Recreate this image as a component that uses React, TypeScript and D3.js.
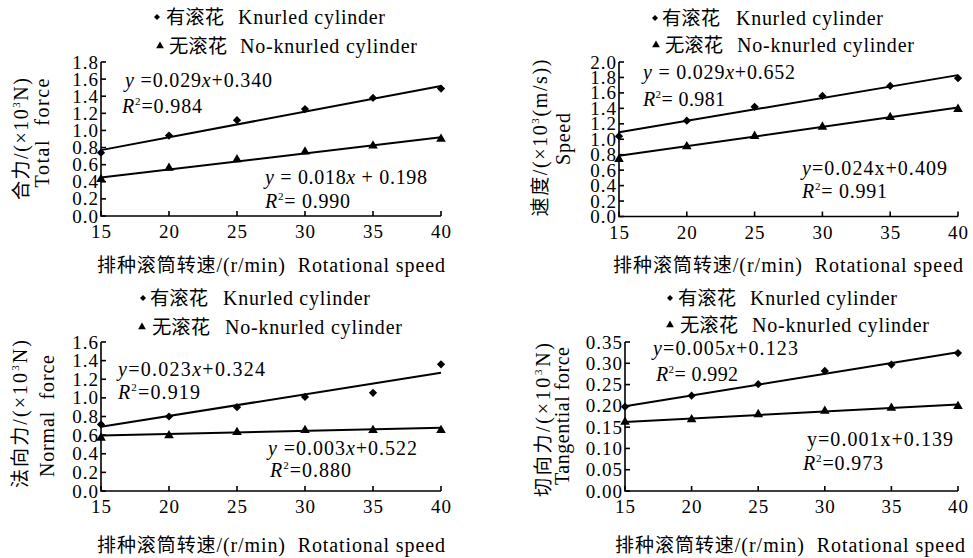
import React from "react";
import * as d3 from "d3";

// rotational speed of the seeding roller, r/min
const speeds = [15, 20, 25, 30, 35, 40];
const trendX = [15, 40];

// total force (x10^3 N)
const totalKnurled = [0.74, 0.94, 1.12, 1.25, 1.38, 1.49];
const totalPlain = [0.43, 0.56, 0.66, 0.75, 0.82, 0.9];
const totalTrendKnurled = [0.77, 1.52];
const totalTrendPlain = [0.45, 0.92];
const totalTicks = [0, 0.2, 0.4, 0.6, 0.8, 1.0, 1.2, 1.4, 1.6, 1.8];

// speed (x10^3 (m/s))
const speedKnurled = [1.04, 1.24, 1.42, 1.56, 1.69, 1.79];
const speedPlain = [0.74, 0.905, 1.04, 1.16, 1.285, 1.39];
const speedTrendKnurled = [1.09, 1.83];
const speedTrendPlain = [0.785, 1.41];
const speedTicks = [0, 0.2, 0.4, 0.6, 0.8, 1.0, 1.2, 1.4, 1.6, 1.8, 2.0];

// normal force (x10^3 N)
const normalKnurled = [0.715, 0.8, 0.9, 1.01, 1.055, 1.36];
const normalPlain = [0.57, 0.596, 0.63, 0.653, 0.653, 0.653];
const normalTrendKnurled = [0.69, 1.27];
const normalTrendPlain = [0.596, 0.678];
const normalTicks = [0, 0.2, 0.4, 0.6, 0.8, 1.0, 1.2, 1.4, 1.6];

// tangential force (x10^3 N)
const tangKnurled = [0.198, 0.224, 0.251, 0.282, 0.297, 0.324];
const tangPlain = [0.162, 0.168, 0.18, 0.188, 0.195, 0.199];
const tangTrendKnurled = [0.199, 0.326];
const tangTrendPlain = [0.162, 0.203];
const tangTicks = [0, 0.05, 0.1, 0.15, 0.2, 0.25, 0.3, 0.35];

const legendCn = ["有滚花", "无滚花"];
const legendEn = ["Knurled cylinder", "No-knurled cylinder"];
const xTitleCn = "排种滚筒转速";
const xTitleEn = "/(r/min)  Rotational speed";

const yTitleCn = ["合力", "速度", "法向力", "切向力"];
const yTitleTail = ["N)", "(m/s))", "N)", "N)"];
const yTitleEn = ["Total  force", "Speed", "Normal  force", "Tangential force"];

const fitKnurled = ["y =0.029x+0.340", "y = 0.029x+0.652", "y=0.023x+0.324", "y=0.005x+0.123"];
const r2Knurled = ["=0.984", "= 0.981", "=0.919", "= 0.992"];
const fitPlain = ["y = 0.018x + 0.198", "y=0.024x+0.409", "y =0.003x+0.522", "y=0.001x+0.139"];
const r2Plain = ["= 0.990", "= 0.991", "=0.880", "=0.973"];
// which letters are set in italics in the plain-roller equation
const fitPlainItalic = ["yx", "y", "yx", ""];

const SERIF = "'Liberation Serif', 'Times New Roman', Tinos, 'DejaVu Serif', serif";
const CJK = "'Noto Sans CJK SC', 'Noto Sans CJK TC', sans-serif";

const series = [
  { knurled: totalKnurled, plain: totalPlain, tk: totalTrendKnurled, tp: totalTrendPlain, ticks: totalTicks, fmt: ".1f" },
  { knurled: speedKnurled, plain: speedPlain, tk: speedTrendKnurled, tp: speedTrendPlain, ticks: speedTicks, fmt: ".1f" },
  { knurled: normalKnurled, plain: normalPlain, tk: normalTrendKnurled, tp: normalTrendPlain, ticks: normalTicks, fmt: ".1f" },
  { knurled: tangKnurled, plain: tangPlain, tk: tangTrendKnurled, tp: tangTrendPlain, ticks: tangTicks, fmt: ".2f" },
];

// pixel layout of each panel
const layouts = [
  {
    left: 101, right: 441, top: 62, bottom: 216,
    legendY: [17, 46], markX: [157, 160], cnX: [166, 169], enX: [238, 240],
    yTitleX: [21, 42], yTitleY: [139, 133], yTitleLen: [122, 109],
    xTitleX: 97, xTitleY: 265, xTitleLen: 348,
    eq: [[125, 80, 147], [122, 106, 80], [265, 177, 162], [265, 201, 85]],
  },
  {
    left: 619, right: 958, top: 62, bottom: 216.5,
    legendY: [18, 45], markX: [655, 656], cnX: [662, 665], enX: [736, 737],
    yTitleX: [540, 563], yTitleY: [138, 139], yTitleLen: [157, 52],
    xTitleX: 613, xTitleY: 265, xTitleLen: 350,
    eq: [[643, 72, 152], [643, 99, 82], [802, 168, 145], [802, 191, 85]],
  },
  {
    left: 101, right: 441, top: 342, bottom: 491,
    legendY: [298, 327], markX: [143, 142], cnX: [150, 152], enX: [223, 225],
    yTitleX: [20, 47], yTitleY: [414, 416], yTitleLen: [148, 122],
    xTitleX: 97, xTitleY: 545, xTitleLen: 348,
    eq: [[118, 369, 147], [118, 392, 82], [268, 448, 149], [270, 470, 81]],
  },
  {
    left: 625, right: 958, top: 342, bottom: 491,
    legendY: [298, 325], markX: [670, 670], cnX: [678, 680], enX: [750, 752],
    yTitleX: [543, 562], yTitleY: [420, 416], yTitleLen: [154, 138],
    xTitleX: 615, xTitleY: 545, xTitleLen: 350,
    eq: [[653, 348, 145], [656, 374, 82], [807, 439, 146], [803, 463, 80]],
  },
];

const diamond = (size: number) => d3.symbol().type(d3.symbolSquare).size(size)() as string;
const triangle = (size: number) => d3.symbol().type(d3.symbolTriangle).size(size)() as string;

function Equation({ text, italic, x, y, width }: any) {
  const runs: { s: string; it: boolean }[] = [];
  for (const ch of text) {
    const it = italic.includes(ch);
    const last = runs[runs.length - 1];
    if (last && last.it === it) last.s += ch;
    else runs.push({ s: ch, it });
  }
  return (
    <text x={x} y={y + 7} fontSize={20} textLength={width} lengthAdjust="spacing" style={{ whiteSpace: "pre" }}>
      {runs.map((r, i) => (
        <tspan key={i} fontStyle={r.it ? "italic" : "normal"}>{r.s}</tspan>
      ))}
    </text>
  );
}

function RSquared({ value, x, y, width }: any) {
  return (
    <text x={x} y={y + 7} fontSize={20} textLength={width} lengthAdjust="spacing" style={{ whiteSpace: "pre" }}>
      <tspan fontStyle="italic">R</tspan>
      <tspan dy={-8} fontSize={11}>2</tspan>
      <tspan dy={8}>{value}</tspan>
    </text>
  );
}

function Panel({ i }: { i: number }) {
  const s = series[i];
  const L = layouts[i];
  const x = d3.scaleLinear().domain([15, 40]).range([L.left, L.right]);
  const y = d3.scaleLinear().domain([0, s.ticks[s.ticks.length - 1]]).range([L.bottom, L.top]);
  const fmt = d3.format(s.fmt);
  const line = d3.line<number>().x((_, k) => x(trendX[k])).y((v) => y(v));

  return (
    <g>
      {/* axes */}
      <path
        d={`M${L.left},${y(s.ticks[s.ticks.length - 1])}V${L.bottom}H${L.right}`}
        fill="none" stroke="#000" strokeWidth={1.6}
      />
      {s.ticks.map((t) => (
        <g key={"yt" + t}>
          <line x1={L.left} x2={L.left + 5} y1={y(t)} y2={y(t)} stroke="#000" strokeWidth={1.6} />
          <text x={L.left - 2} y={y(t) + 6.5} textAnchor="end" fontSize={19} letterSpacing={1}>{fmt(t)}</text>
        </g>
      ))}
      {speeds.map((v) => (
        <g key={"xt" + v}>
          <line x1={x(v)} x2={x(v)} y1={L.bottom} y2={L.bottom - 5} stroke="#000" strokeWidth={1.6} />
          <text x={x(v) + 0.5} y={L.bottom + 22} textAnchor="middle" fontSize={19} letterSpacing={1}>{v}</text>
        </g>
      ))}

      {/* trend lines */}
      <path d={line(s.tk) as string} fill="none" stroke="#000" strokeWidth={2} />
      <path d={line(s.tp) as string} fill="none" stroke="#000" strokeWidth={2} />

      {/* points */}
      {speeds.map((v, k) => (
        <path key={"k" + v} d={diamond(34)} transform={`translate(${x(v)},${y(s.knurled[k])}) rotate(45)`} fill="#000" />
      ))}
      {speeds.map((v, k) => (
        <path key={"p" + v} d={triangle(40)} transform={`translate(${x(v)},${y(s.plain[k])})`} fill="#000" />
      ))}

      {/* legend */}
      <path d={diamond(18)} transform={`translate(${L.markX[0]},${L.legendY[0]}) rotate(45)`} fill="#000" />
      <path d={triangle(26)} transform={`translate(${L.markX[1]},${L.legendY[1]})`} fill="#000" />
      {legendCn.map((t, k) => (
        <text key={"lc" + k} x={L.cnX[k]} y={L.legendY[k] + 7} fontSize={19} fontFamily={CJK}
          textLength={58} lengthAdjust="spacingAndGlyphs">{t}</text>
      ))}
      {legendEn.map((t, k) => (
        <text key={"le" + k} x={L.enX[k]} y={L.legendY[k] + 7} fontSize={20}
          textLength={k === 0 ? 147 : 177} lengthAdjust="spacing">{t}</text>
      ))}

      {/* axis titles */}
      <text x={L.xTitleX} y={L.xTitleY + 7} fontSize={20}
        textLength={L.xTitleLen} lengthAdjust="spacing" style={{ whiteSpace: "pre" }}>
        <tspan fontFamily={CJK} fontSize={19}>{xTitleCn}</tspan>
        <tspan>{xTitleEn}</tspan>
      </text>
      <g transform={`translate(${L.yTitleX[0]},${L.yTitleY[0]}) rotate(-90)`}>
        <text x={0} y={7} textAnchor="middle" fontSize={20} textLength={L.yTitleLen[0]} lengthAdjust="spacing">
          <tspan fontFamily={CJK} fontSize={19}>{yTitleCn[i]}</tspan>
          <tspan>/(×10</tspan>
          <tspan dy={-8} fontSize={11}>3</tspan>
          <tspan dy={8}>{yTitleTail[i]}</tspan>
        </text>
      </g>
      <g transform={`translate(${L.yTitleX[1]},${L.yTitleY[1]}) rotate(-90)`}>
        <text x={0} y={7} textAnchor="middle" fontSize={20} textLength={L.yTitleLen[1]} lengthAdjust="spacing"
          style={{ whiteSpace: "pre" }}>{yTitleEn[i]}</text>
      </g>

      {/* fitted equations */}
      <Equation text={fitKnurled[i]} italic="yx" x={L.eq[0][0]} y={L.eq[0][1]} width={L.eq[0][2]} />
      <RSquared value={r2Knurled[i]} x={L.eq[1][0]} y={L.eq[1][1]} width={L.eq[1][2]} />
      <Equation text={fitPlain[i]} italic={fitPlainItalic[i]} x={L.eq[2][0]} y={L.eq[2][1]} width={L.eq[2][2]} />
      <RSquared value={r2Plain[i]} x={L.eq[3][0]} y={L.eq[3][1]} width={L.eq[3][2]} />
    </g>
  );
}

export default function App() {
  return (
    <svg
      width={973}
      height={558}
      style={{ position: "absolute", left: 0, top: 0, background: "#fff", fontFamily: SERIF }}
      fill="#000"
    >
      {layouts.map((_, i) => (
        <Panel key={i} i={i} />
      ))}
    </svg>
  );
}
